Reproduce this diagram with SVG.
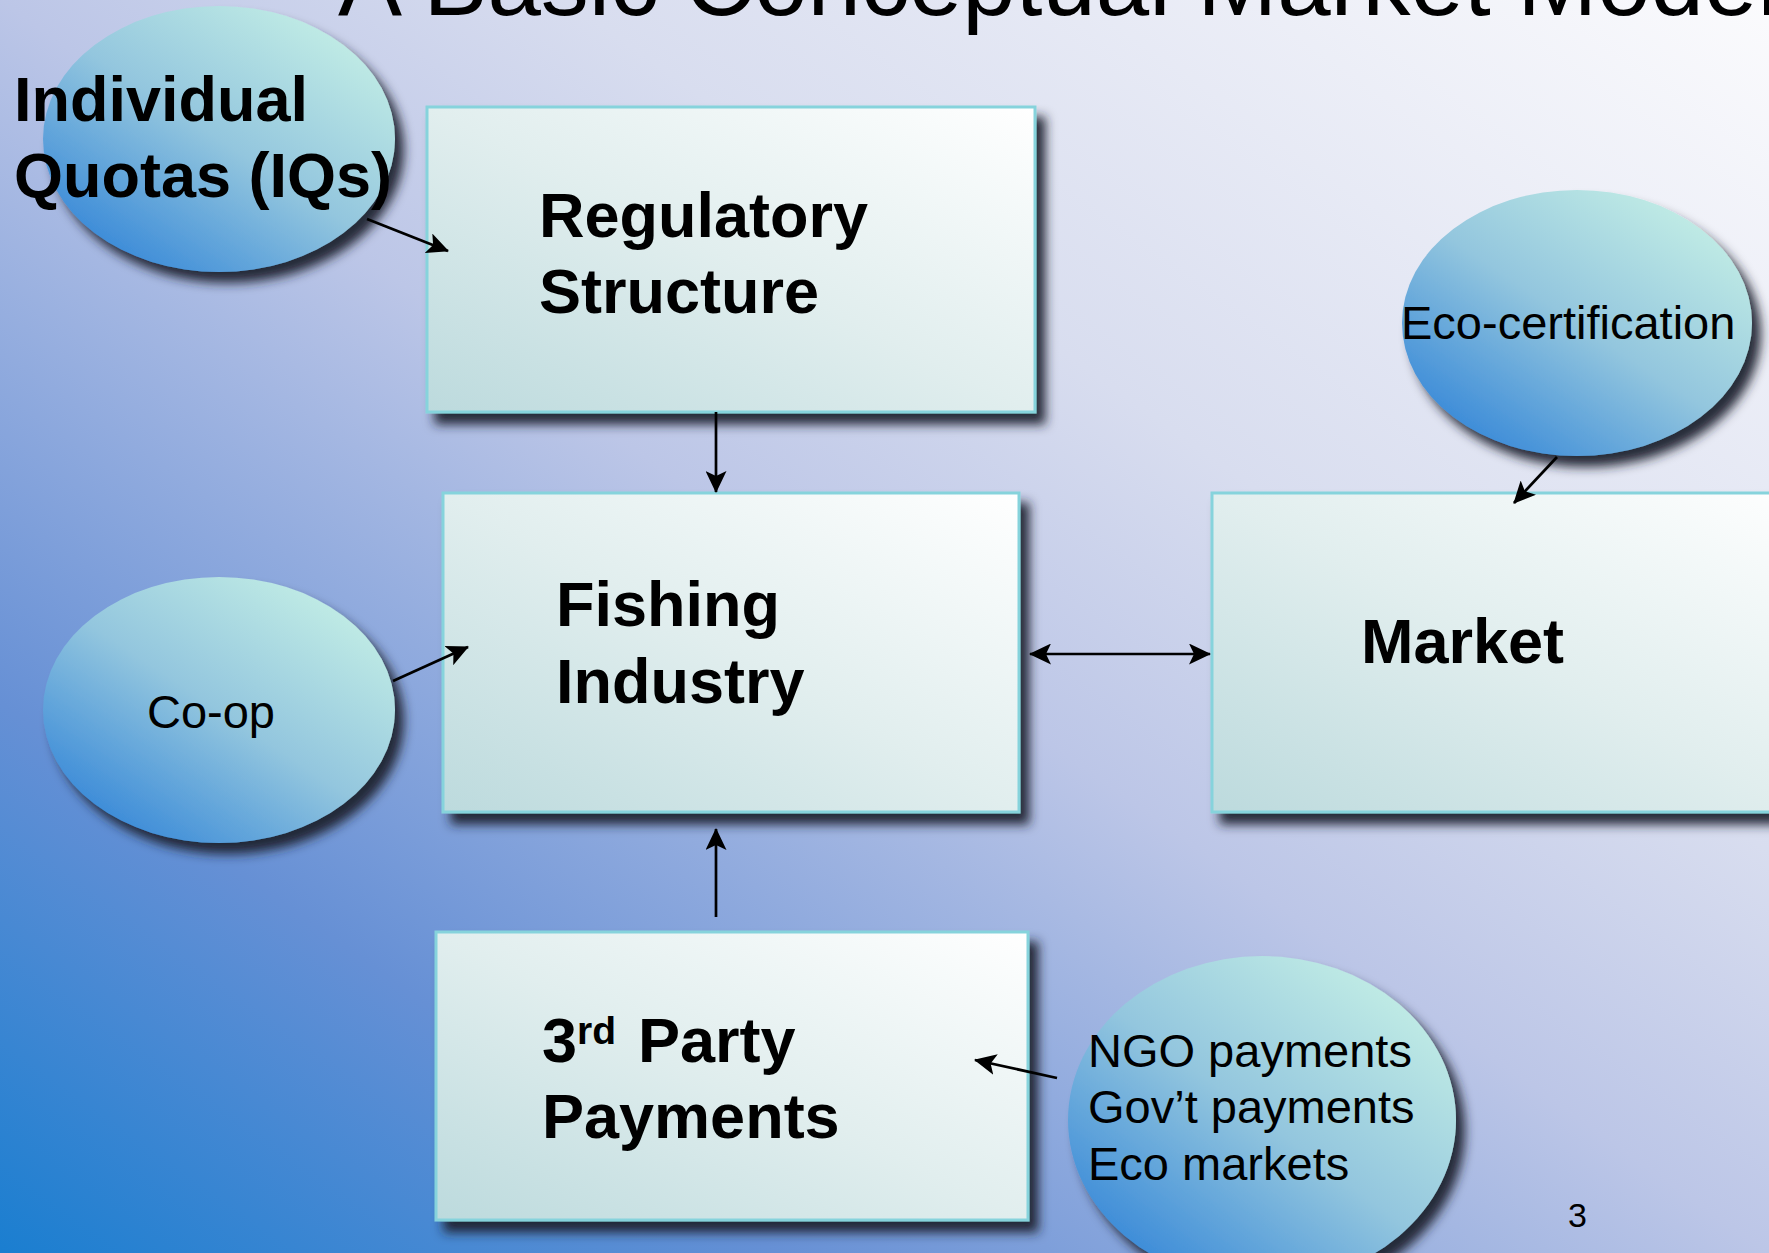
<svg xmlns="http://www.w3.org/2000/svg" width="1769" height="1253" viewBox="0 0 1769 1253">
  <defs>
    <linearGradient id="bg" x1="0" y1="1" x2="1" y2="0">
      <stop offset="0" stop-color="#1a7ed0"/>
      <stop offset="0.22" stop-color="#6690d5"/>
      <stop offset="0.5" stop-color="#bcc6e7"/>
      <stop offset="0.66" stop-color="#d8ddef"/>
      <stop offset="1" stop-color="#fbfbfd"/>
    </linearGradient>
    <linearGradient id="boxFill" x1="0" y1="1" x2="1" y2="0">
      <stop offset="0" stop-color="#bcdadd"/>
      <stop offset="0.5" stop-color="#e1eeee"/>
      <stop offset="1" stop-color="#ffffff"/>
    </linearGradient>
    <linearGradient id="ovalFill" x1="0.15" y1="0.9" x2="0.85" y2="0.1">
      <stop offset="0" stop-color="#3a8ad8"/>
      <stop offset="0.5" stop-color="#93c6de"/>
      <stop offset="1" stop-color="#c1ece5"/>
    </linearGradient>
    <filter id="shadow" x="-10%" y="-10%" width="130%" height="130%">
      <feGaussianBlur in="SourceAlpha" stdDeviation="5.5"/>
      <feOffset dx="9" dy="11" result="b"/>
      <feFlood flood-color="#1e2230" flood-opacity="0.95"/>
      <feComposite in2="b" operator="in" result="s"/>
      <feMerge>
        <feMergeNode in="s"/>
        <feMergeNode in="SourceGraphic"/>
      </feMerge>
    </filter>
    <marker id="head" viewBox="0 0 22 21" refX="21" refY="10.5" markerWidth="22" markerHeight="21" markerUnits="userSpaceOnUse" orient="auto-start-reverse">
      <path d="M0,0 L22,10.5 L0,21 L5,10.5 z" fill="#000"/>
    </marker>
    <style>
      .box { fill: url(#boxFill); stroke: #86d3dc; stroke-width: 3; filter: url(#shadow); }
      .oval { fill: url(#ovalFill); filter: url(#shadow); }
      .big { font-family: "Liberation Sans", Arial, sans-serif; font-weight: bold; font-size: 63px; fill: #000; }
      .small { font-family: "Liberation Sans", Arial, sans-serif; font-size: 47px; fill: #000; }
      .title { font-family: "Liberation Sans", Arial, sans-serif; font-size: 96px; fill: #000; }
      .conn { stroke: #000; stroke-width: 2.7; fill: none; marker-end: url(#head); }
    </style>
  </defs>

  <!-- slide background -->
  <rect x="0" y="0" width="1769" height="1253" fill="url(#bg)"/>

  <!-- title -->
  <text class="title" x="338" y="15">A Basic Conceptual Market Model</text>

  <g id="regulatory-structure">
    <rect class="box" x="427" y="107" width="608" height="305"/>
    <text class="big" x="539" y="237">Regulatory</text>
    <text class="big" x="539" y="313">Structure</text>
  </g>

  <g id="fishing-industry">
    <rect class="box" x="443" y="493" width="576" height="319"/>
    <text class="big" x="556" y="626">Fishing</text>
    <text class="big" x="556" y="703">Industry</text>
  </g>

  <g id="market">
    <rect class="box" x="1212" y="493" width="600" height="319"/>
    <text class="big" x="1361" y="663">Market</text>
  </g>

  <g id="third-party-payments">
    <rect class="box" x="436" y="932" width="592" height="288"/>
    <text class="big" x="542" y="1062">3<tspan font-size="39" dy="-18">rd</tspan><tspan dy="18" dx="22">Party</tspan></text>
    <text class="big" x="542" y="1138">Payments</text>
  </g>

  <g id="individual-quotas">
    <ellipse class="oval" cx="219" cy="139" rx="176" ry="133"/>
    <text class="big" x="14" y="121">Individual</text>
    <text class="big" x="14" y="197">Quotas (IQs)</text>
  </g>

  <g id="co-op">
    <ellipse class="oval" cx="219" cy="710" rx="176" ry="133"/>
    <text class="small" x="147" y="728">Co-op</text>
  </g>

  <g id="eco-certification">
    <ellipse class="oval" cx="1577" cy="323" rx="175" ry="133"/>
    <text class="small" x="1401" y="339">Eco-certification</text>
  </g>

  <g id="payment-sources">
    <ellipse class="oval" cx="1262" cy="1120" rx="194" ry="164"/>
    <text class="small" x="1088" y="1067">NGO payments</text>
    <text class="small" x="1088" y="1123">Gov’t payments</text>
    <text class="small" x="1088" y="1180">Eco markets</text>
  </g>

  <g id="connectors">
    <line class="conn" x1="367" y1="219" x2="448" y2="251"/>
    <line class="conn" x1="716" y1="412" x2="716" y2="492"/>
    <line class="conn" x1="393" y1="681" x2="468" y2="647"/>
    <line class="conn" x1="716" y1="917" x2="716" y2="829"/>
    <line class="conn" x1="1030" y1="654" x2="1210" y2="654" marker-start="url(#head)"/>
    <line class="conn" x1="1557" y1="457" x2="1514" y2="503"/>
    <line class="conn" x1="1057" y1="1078" x2="975" y2="1060"/>
  </g>

  <!-- slide number -->
  <text font-family="Liberation Sans, Arial, sans-serif" font-size="34" x="1568" y="1227">3</text>
</svg>
